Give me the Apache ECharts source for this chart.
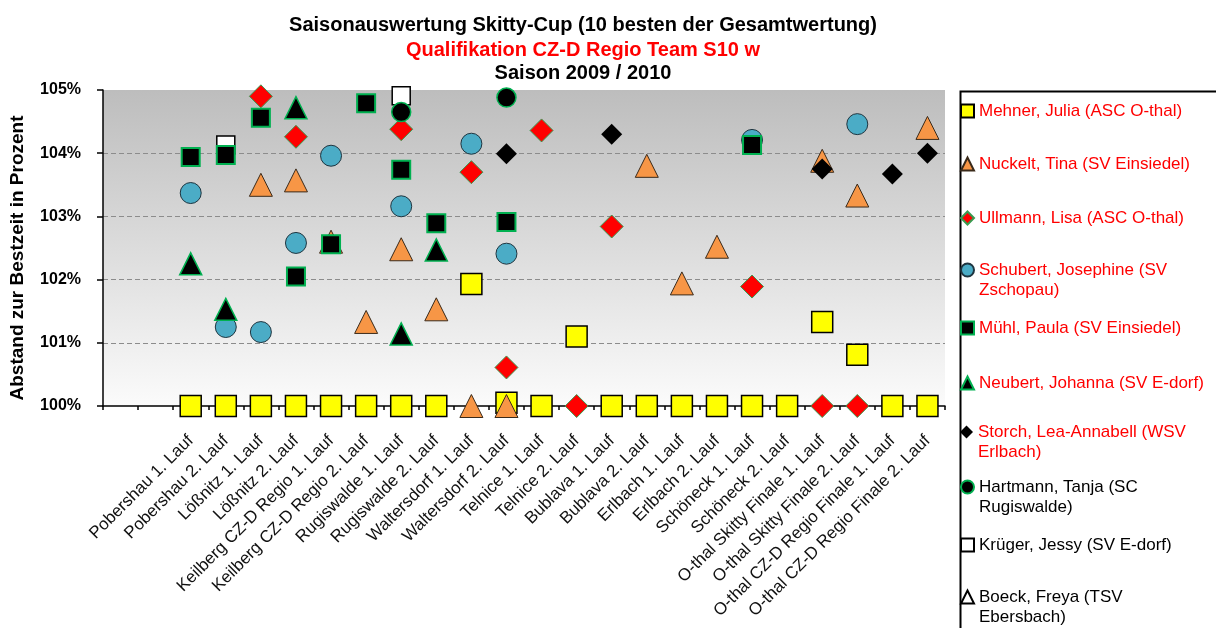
<!DOCTYPE html>
<html>
<head>
<meta charset="utf-8">
<script src="https://cdn.jsdelivr.net/npm/echarts@6/dist/echarts.min.js"></script>
<style>
  html, body { margin: 0; padding: 0; background: #fff; }
  #container { width: 1216px; height: 628px; }
</style>
</head>
<body>
<div id="container"></div>
<script>
// two empty slots at the start of the axis, then the 22 races
var laeufe = ['', '',
  'Pobershau 1. Lauf', 'Pobershau 2. Lauf', 'Lößnitz 1. Lauf', 'Lößnitz 2. Lauf',
  'Keilberg CZ-D Regio 1. Lauf', 'Keilberg CZ-D Regio 2. Lauf', 'Rugiswalde 1. Lauf', 'Rugiswalde 2. Lauf',
  'Waltersdorf 1. Lauf', 'Waltersdorf 2. Lauf', 'Telnice 1. Lauf', 'Telnice 2. Lauf',
  'Bublava 1. Lauf', 'Bublava 2. Lauf', 'Erlbach 1. Lauf', 'Erlbach 2. Lauf',
  'Schöneck 1. Lauf', 'Schöneck 2. Lauf', 'O-thal Skitty Finale 1. Lauf', 'O-thal Skitty Finale 2. Lauf',
  'O-thal CZ-D Regio Finale 1. Lauf', 'O-thal CZ-D Regio Finale 2. Lauf'];

var yTicks = [100, 101, 102, 103, 104, 105];

// values per race (22 races), null = not started
var mehner    = [100, 100, 100, 100, 100, 100, 100, 100, 101.93, 100.05, 100, 101.1, 100, 100, 100, 100, 100, 100, 101.33, 100.81, 100, 100];
var nuckelt   = [null, null, 103.5, 103.57, 102.6, 101.33, 102.48, 101.53, 100, 100, null, null, null, 103.8, 101.94, 102.52, null, null, 103.88, 103.33, null, 104.4];
var ullmann   = [null, null, 104.9, 104.26, null, null, 104.38, null, 103.7, 100.61, 104.36, 100, 102.84, null, null, null, 101.89, null, 100, 100, null, null];
var schubert  = [103.37, 101.25, 101.17, 102.58, 103.96, null, 103.16, null, 104.15, 102.41, null, null, null, null, null, null, 104.21, null, null, 104.46, null, null];
var muehl     = [103.94, 103.97, 104.56, 102.05, 102.56, 104.79, 103.74, 102.89, null, 102.91, null, null, null, null, null, null, 104.13, null, null, null, null, null];
var neubert   = [102.25, 101.53, null, 104.72, null, null, 101.14, 102.47, null, null, null, null, null, null, null, null, null, null, null, null, null, null];
var storch    = [null, null, null, null, null, null, null, null, null, 103.99, null, null, 104.3, null, null, null, null, null, 103.75, null, 103.67, 104.0];
var hartmann  = [null, null, null, null, null, null, 104.65, null, null, 104.88, null, null, null, null, null, null, null, null, null, null, null, null];
var krueger   = [null, 104.13, null, null, null, null, 104.91, null, null, null, null, null, null, null, null, null, null, null, null, null, null, null];
var boeck     = [null, null, null, null, null, null, null, null, null, null, null, null, null, null, null, null, null, null, null, null, null, null];

var namen = ['Mehner, Julia (ASC O-thal)', 'Nuckelt, Tina (SV Einsiedel)', 'Ullmann, Lisa (ASC O-thal)',
  'Schubert, Josephine (SV Zschopau)', 'Mühl, Paula (SV Einsiedel)', 'Neubert, Johanna (SV E-dorf)',
  'Storch, Lea-Annabell (WSV Erlbach)', 'Hartmann, Tanja (SC Rugiswalde)', 'Krüger, Jessy (SV E-dorf)',
  'Boeck, Freya (TSV Ebersbach)'];
// legend lines; an empty first line keeps the icon on the first text line
var legendZeilen = ['Mehner, Julia (ASC O-thal)', 'Nuckelt, Tina (SV Einsiedel)', 'Ullmann, Lisa (ASC O-thal)',
  '\nSchubert, Josephine (SV\nZschopau)', 'Mühl, Paula (SV Einsiedel)', 'Neubert, Johanna (SV E-dorf)',
  '\nStorch, Lea-Annabell (WSV\nErlbach)', '\nHartmann, Tanja (SC\nRugiswalde)', 'Krüger, Jessy (SV E-dorf)',
  '\nBoeck, Freya (TSV\nEbersbach)'];
var legendFarben = ['#ff0000', '#ff0000', '#ff0000', '#ff0000', '#ff0000', '#ff0000', '#ff0000', '#000', '#000', '#000'];

var werte = [mehner, nuckelt, ullmann, schubert, muehl, neubert, storch, hartmann, krueger, boeck];
var symbole = [
  { symbol: 'rect', size: 21, color: '#ffff00', border: '#000', bw: 1.5 },
  { symbol: 'triangle', size: 23, color: '#f79646', border: '#3a2a1a', bw: 1 },
  { symbol: 'diamond', size: 23, color: '#ff0000', border: '#3a9a50', bw: 1 },
  { symbol: 'circle', size: 21, color: '#4bacc6', border: '#1e3540', bw: 1 },
  { symbol: 'rect', size: 18, color: '#000', border: '#00b050', bw: 2 },
  { symbol: 'triangle', size: 22, color: '#000', border: '#00b050', bw: 1.5 },
  { symbol: 'diamond', size: 21, color: '#000', border: '#000', bw: 0 },
  { symbol: 'circle', size: 19, color: '#000', border: '#00b050', bw: 1.5 },
  { symbol: 'rect', size: 18, color: '#fff', border: '#000', bw: 1.5 },
  { symbol: 'triangle', size: 18, color: '#fff', border: '#000', bw: 1 }
];
var legendMitte = [108, 161, 215, 270, 325, 380, 432, 487, 542, 597];

var font = '"Liberation Sans", Arial, sans-serif';

var series = namen.map(function (name, i) {
  var s = symbole[i];
  return {
    name: name,
    type: 'scatter',
    z: name.indexOf('Krüger') === 0 ? 1 : 2,
    symbol: s.symbol,
    symbolSize: s.size,
    itemStyle: { color: s.color, borderColor: s.border, borderWidth: s.bw, opacity: 1 },
    emphasis: { disabled: true },
    data: [null, null].concat(werte[i]).map(function (v) { return v === null ? '-' : v; })
  };
});

var legends = namen.map(function (name, i) {
  var dreizeilig = legendZeilen[i].charAt(0) === '\n';
  return {
    data: [name],
    orient: 'vertical',
    left: 960,
    top: legendMitte[i] - (dreizeilig ? 30 : 7),
    padding: 0,
    itemWidth: 13,
    itemHeight: 13,
    itemGap: 0,
    selectedMode: false,
    formatter: function () { return legendZeilen[i]; },
    textStyle: {
      color: legendFarben[i],
      fontFamily: font,
      fontSize: 17,
      lineHeight: 20
    }
  };
});

var titelStil = { fontFamily: font, fontSize: 20, fontWeight: 'bold', color: '#000', lineHeight: 22 };

var dom = document.getElementById('container');
var myChart = echarts.init(dom, null, { renderer: 'canvas' });

var option = {
  animation: false,
  backgroundColor: '#fff',
  title: [{
    text: 'Saisonauswertung Skitty-Cup (10 besten der Gesamtwertung)',
    left: 583, top: 14, padding: 0, textAlign: 'center',
    textStyle: titelStil
  }, {
    text: 'Qualifikation CZ-D Regio Team S10 w',
    left: 583, top: 39, padding: 0, textAlign: 'center',
    textStyle: echarts.util.extend(echarts.util.clone(titelStil), { color: '#ff0000' })
  }, {
    text: 'Saison 2009 / 2010',
    left: 583, top: 62, padding: 0, textAlign: 'center',
    textStyle: titelStil
  }],
  legend: legends,
  grid: {
    left: 100, right: 271, top: 90, bottom: 222,
    show: true,
    borderWidth: 0,
    backgroundColor: new echarts.graphic.LinearGradient(0, 0, 0, 1, [
      { offset: 0, color: '#bdbdbd' },
      { offset: 1, color: '#fbfbfb' }
    ])
  },
  xAxis: {
    type: 'category',
    data: laeufe,
    boundaryGap: true,
    axisLine: { lineStyle: { color: '#000', width: 1.5 } },
    axisTick: { show: true, length: 4, interval: 0, lineStyle: { color: '#000', width: 1.5 } },
    axisLabel: {
      interval: 0, rotate: 45, margin: 32,
      fontFamily: font, fontSize: 17, color: '#111'
    },
    splitLine: { show: false }
  },
  yAxis: {
    type: 'value',
    min: yTicks[0],
    max: yTicks[yTicks.length - 1],
    interval: 1,
    name: 'Abstand zur Bestzeit in Prozent',
    nameLocation: 'middle',
    nameGap: 76,
    nameTextStyle: { fontFamily: font, fontSize: 19, fontWeight: 'bold', color: '#000', padding: [0, 20, 0, 0] },
    axisLine: { show: true, lineStyle: { color: '#000', width: 1.5 } },
    axisTick: { show: true, length: 6, lineStyle: { color: '#000', width: 1.5 } },
    axisLabel: {
      margin: 22,
      fontFamily: font, fontSize: 16, fontWeight: 'bold', color: '#000',
      formatter: '{value}%'
    },
    splitLine: {
      show: true,
      lineStyle: {
        type: [5, 3],
        width: 1,
        color: ['rgba(0,0,0,0)', '#8c8c8c', '#8c8c8c', '#8c8c8c', '#8c8c8c', 'rgba(0,0,0,0)']
      }
    }
  },
  graphic: [{
    type: 'rect',
    left: 958, top: 89,
    shape: { width: 400, height: 700 },
    style: { fill: 'none', stroke: '#000', lineWidth: 2 },
    silent: true
  }],
  series: series
};

if (option && typeof option === 'object') {
  myChart.setOption(option, true);
}
</script>
</body>
</html>
